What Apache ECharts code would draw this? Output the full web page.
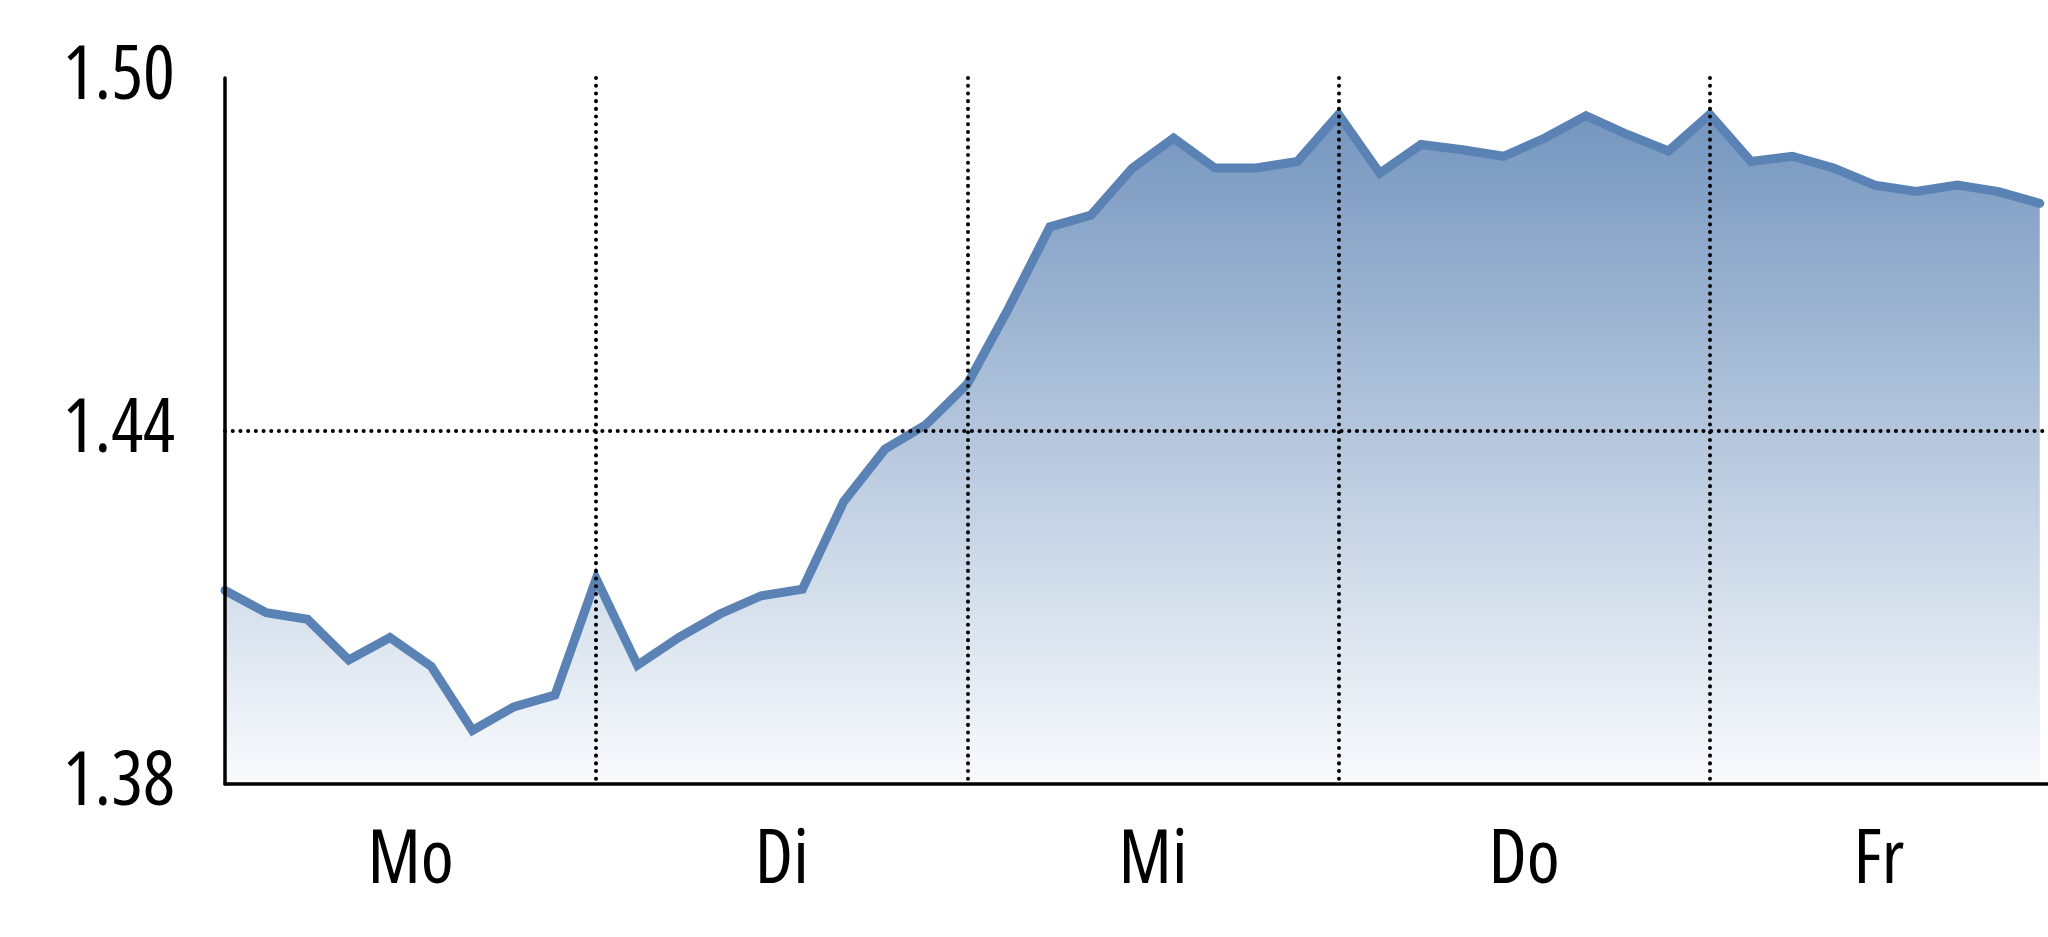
<!DOCTYPE html>
<html>
<head>
<meta charset="utf-8">
<script src="https://cdn.jsdelivr.net/npm/echarts@6/dist/echarts.min.js"></script>
<style>
  html, body { margin: 0; padding: 0; background: #ffffff; }
  #chart { width: 2048px; height: 937px; }
</style>
</head>
<body>
<div id="chart"></div>
<script>
// ---- data ----
const days = ['Mo', 'Di', 'Mi', 'Do', 'Fr'];
const pointsPerDay = 9;
const values = [
  1.4129, 1.4091, 1.4080, 1.4011, 1.4049, 1.4000, 1.3891, 1.3931, 1.3951,
  1.4149, 1.4002, 1.4049, 1.4089, 1.4120, 1.4131, 1.4280, 1.4369, 1.4411,
  1.4480, 1.4609, 1.4747, 1.4767, 1.4847, 1.4898, 1.4847, 1.4847, 1.4858,
  1.4938, 1.4838, 1.4887, 1.4878, 1.4867, 1.4898, 1.4936, 1.4904, 1.4876,
  1.4938, 1.4858, 1.4867, 1.4847, 1.4818, 1.4807, 1.4818, 1.4807, 1.4787
];
const yMin = 1.38, yMax = 1.50, yStep = 0.06;

// ---- build ----
const xMax = 44.2;
const seriesData = values.map((v, i) => [i, v]);
const dayCenters = days.map((d, i) => {
  const a = i * pointsPerDay;
  const b = Math.min((i + 1) * pointsPerDay, xMax);
  return (a + b) / 2;
});
const FONT = "'Open Sans', 'Roboto', sans-serif";
const STRETCH = 'condensed';   // goes into the canvas font shorthand
const dotted = { type: [0.1, 7.6], cap: 'round', width: 4 };
const T = 'rgba(0,0,0,0)';

const chart = echarts.init(document.getElementById('chart'), null, { renderer: 'canvas' });
chart.setOption({
  animation: false,
  backgroundColor: '#ffffff',
  grid: { left: 225, right: 0, top: 78, bottom: 153, containLabel: false },
  xAxis: {
    type: 'value',
    min: 0,
    max: xMax,
    interval: pointsPerDay,
    z: 5,
    axisLine: { show: true, onZero: false, lineStyle: { color: '#000', width: 3.5 } },
    axisTick: { show: false },
    axisLabel: {
      show: true,
      customValues: dayCenters,
      formatter: function (v) {
        const i = Math.min(days.length - 1, Math.floor(v / pointsPerDay));
        return days[i];
      },
      color: '#000',
      fontSize: 75,
      fontWeight: STRETCH,
      fontFamily: FONT,
      margin: 40
    },
    splitLine: {
      show: true,
      lineStyle: Object.assign({ color: [T, '#000', '#000', '#000', '#000', T] }, dotted)
    }
  },
  yAxis: {
    type: 'value',
    min: yMin,
    max: yMax,
    interval: yStep,
    z: 5,
    axisLine: { show: true, lineStyle: { color: '#000', width: 3.5 } },
    axisTick: { show: false },
    axisLabel: {
      formatter: v => v.toFixed(2),
      color: '#000',
      fontSize: 75,
      fontWeight: STRETCH,
      fontFamily: FONT,
      margin: 50
    },
    splitLine: {
      show: true,
      lineStyle: Object.assign({ color: [T, '#000', T] }, dotted)
    }
  },
  series: [{
    type: 'line',
    data: seriesData,
    showSymbol: false,
    symbol: 'none',
    lineStyle: { color: '#5a82b4', width: 9, cap: 'round', join: 'miter' },
    areaStyle: {
      origin: 'start',
      opacity: 1,
      color: new echarts.graphic.LinearGradient(0, 0, 0, 1, [
        { offset: 0, color: '#7596bf' },
        { offset: 1, color: '#f9fbfd' }
      ])
    },
    z: 2
  }]
});
</script>
</body>
</html>
